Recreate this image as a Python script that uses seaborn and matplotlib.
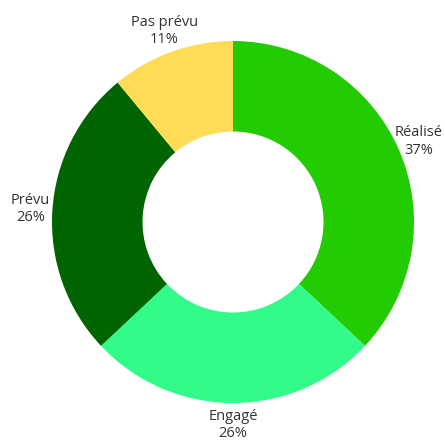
import matplotlib
matplotlib.use('Agg')
import matplotlib.pyplot as plt
import seaborn as sns

sns.set_style('white')
plt.rcParams['font.family'] = ['Open Sans', 'DejaVu Sans']

categories = ['Réalisé', 'Engagé', 'Prévu', 'Pas prévu']
values = [37, 26, 26, 11]
colors = ['#22cc00', '#33fb8a', '#006400', '#ffdc55']

fig = plt.figure(figsize=(4.45, 4.40), dpi=100)
ax = fig.add_axes([52 / 445, 37 / 440, 362 / 445, 362 / 440])

labels = [f'{c}\n{v}%' for c, v in zip(categories, values)]
wedges, texts = ax.pie(values, labels=labels, colors=colors, startangle=90,
                       counterclock=False, labeldistance=1.12,
                       wedgeprops=dict(width=0.5, linewidth=0),
                       textprops=dict(fontsize=10.5, color='#333333'))
for t in texts:
    t.set_horizontalalignment('center')
    t.set_verticalalignment('center')
    t.set_linespacing(1.2)

ax.set_xlim(-1, 1)
ax.set_ylim(-1, 1)
ax.set_aspect('auto')
ax.axis('off')

fig.savefig('out.png', dpi=100)
